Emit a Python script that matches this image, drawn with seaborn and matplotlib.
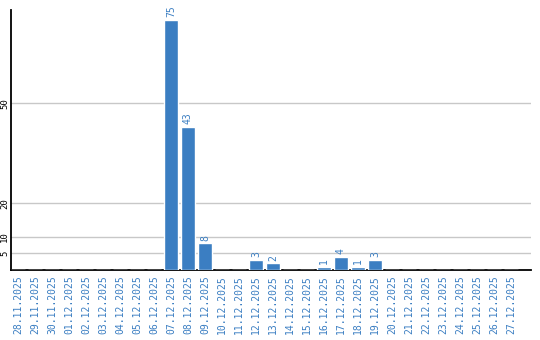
import matplotlib
matplotlib.use("Agg")
import matplotlib.pyplot as plt
import seaborn as sns
import pandas as pd

dates = ["28.11.2025", "29.11.2025", "30.11.2025", "01.12.2025", "02.12.2025",
         "03.12.2025", "04.12.2025", "05.12.2025", "06.12.2025", "07.12.2025",
         "08.12.2025", "09.12.2025", "10.12.2025", "11.12.2025", "12.12.2025",
         "13.12.2025", "14.12.2025", "15.12.2025", "16.12.2025", "17.12.2025",
         "18.12.2025", "19.12.2025", "20.12.2025", "21.12.2025", "22.12.2025",
         "23.12.2025", "24.12.2025", "25.12.2025", "26.12.2025", "27.12.2025"]
values = [0, 0, 0, 0, 0, 0, 0, 0, 0, 75,
          43, 8, 0, 0, 3, 2, 0, 0, 1, 4,
          1, 3, 0, 0, 0, 0, 0, 0, 0, 0]
yticks = [5, 10, 20, 50]

BLUE = "#3b7ec2"

sns.set_theme(style="white")
plt.rcParams["font.family"] = ["DejaVu Sans Mono", "DejaVu Sans"]

df = pd.DataFrame({"date": dates, "value": values})

fig = plt.figure(figsize=(5.4, 3.4), dpi=100)
ax = fig.add_axes([10.7 / 540, 70 / 340, (531 - 10.7) / 540, 260 / 340])

sns.barplot(data=df, x="date", y="value", color=BLUE, saturation=1, width=0.82, ax=ax, zorder=3)

ax.set_xlim(-0.43, 30.18)
ax.set_ylim(0, 78)
ax.set_yticks(yticks)
ax.set_yticklabels([str(t) for t in yticks], rotation=90, fontsize=6.5, va="center")
ax.yaxis.grid(True, color="#c8c8c8", linewidth=1, zorder=0)
ax.set_axisbelow(True)
ax.tick_params(axis="y", length=0, pad=1, colors="black")
ax.tick_params(axis="x", length=0, pad=4)
ax.set_xticks(range(len(dates)))
ax.set_xticklabels(dates, rotation=90, fontsize=7, color=BLUE, va="top", ha="center")
ax.set_xlabel("")
ax.set_ylabel("")

for s in ["top", "right"]:
    ax.spines[s].set_visible(False)
for s in ["left", "bottom"]:
    ax.spines[s].set_color("black")
    ax.spines[s].set_linewidth(1.3)

labels = [str(v) if v > 0 else "" for v in values]
ax.bar_label(ax.containers[0], labels=labels, rotation=90, fontsize=7, color=BLUE, padding=2)

fig.savefig("out.png", dpi=100)
